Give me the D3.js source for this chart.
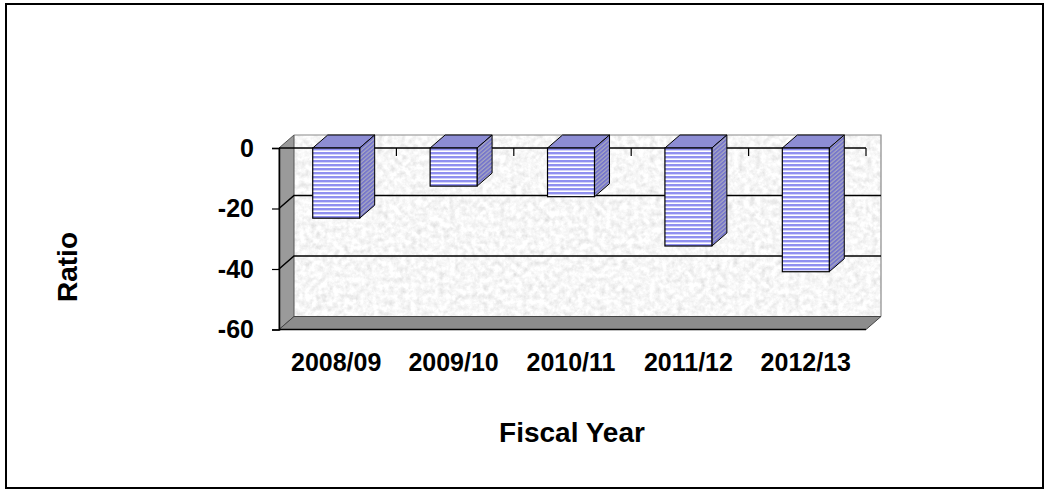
<!DOCTYPE html>
<html>
<head>
<meta charset="utf-8">
<script src="https://cdn.jsdelivr.net/npm/d3@7"></script>
<style>
  html, body { margin: 0; padding: 0; background: #fff; }
  svg { display: block; font-family: Arial, "Liberation Sans", sans-serif; }
</style>
</head>
<body>
<svg id="chart" width="1049" height="493"></svg>
<script>
// Fiscal-year ratios (all negative)
const categories = ["2008/09", "2009/10", "2010/11", "2011/12", "2012/13"];
const ratios = [-23.2, -12.6, -16.1, -32.4, -40.9];
const yTicks = [0, -20, -40, -60];

const svg = d3.select("#chart");
const defs = svg.append("defs");

// Front plane of the 3D plot and depth offset
const plot = { left: 279, right: 866, top: 148, bottom: 329.5 };
const depth = { dx: 15, dy: -13 };

const y = d3.scaleLinear().domain([-60, 0]).range([plot.bottom, plot.top]);
const x = d3.scaleBand().domain(categories).range([plot.left, plot.right]).paddingInner(0.6).paddingOuter(0.3);

// Granite texture for the back wall
const granite = defs.append("filter").attr("id", "granite")
  .attr("x", 0).attr("y", 0).attr("width", 1).attr("height", 1);
granite.append("feTurbulence").attr("type", "fractalNoise")
  .attr("baseFrequency", 0.18).attr("numOctaves", 4).attr("seed", 11).attr("result", "noise");
granite.append("feColorMatrix").attr("in", "noise").attr("type", "matrix")
  .attr("values", "0.33 0.33 0.33 0 0  0.33 0.33 0.33 0 0  0.33 0.33 0.33 0 0  0 0 0 0 1")
  .attr("result", "gray");
const ct = granite.append("feComponentTransfer").attr("in", "gray").attr("result", "tone");
["feFuncR", "feFuncG", "feFuncB"].forEach(f =>
  ct.append(f).attr("type", "linear").attr("slope", 0.75).attr("intercept", 0.56));
granite.append("feComposite").attr("in", "tone").attr("in2", "SourceGraphic").attr("operator", "in");

// Horizontal stripes for bar fronts
const front = defs.append("pattern").attr("id", "stripeFront")
  .attr("patternUnits", "userSpaceOnUse").attr("width", 8).attr("height", 4);
front.append("rect").attr("width", 8).attr("height", 4).attr("fill", "#ffffff");
front.append("rect").attr("width", 8).attr("height", 2.4).attr("fill", "#9090f0");

// Skewed stripes for bar sides
const skew = -Math.atan2(-depth.dy, depth.dx) * 180 / Math.PI;
const side = defs.append("pattern").attr("id", "stripeSide")
  .attr("patternUnits", "userSpaceOnUse").attr("width", 8).attr("height", 4)
  .attr("patternTransform", `skewY(${skew})`);
side.append("rect").attr("width", 8).attr("height", 4).attr("fill", "#a8a8c0");
side.append("rect").attr("width", 8).attr("height", 2.4).attr("fill", "#7676cc");

// Outer frame
svg.append("rect").attr("x", 6).attr("y", 4).attr("width", 1037).attr("height", 484)
  .attr("fill", "#fff").attr("stroke", "#000").attr("stroke-width", 2);

const P = (px, py) => `${px},${py}`;
const back = v => y(v) + depth.dy;

// Back wall
svg.append("rect")
  .attr("x", plot.left + depth.dx).attr("y", back(0))
  .attr("width", plot.right - plot.left).attr("height", y(-60) - y(0))
  .attr("fill", "#eee").attr("filter", "url(#granite)");
svg.append("path")
  .attr("d", `M${P(plot.left + depth.dx, back(0))}L${P(plot.right + depth.dx, back(0))}L${P(plot.right + depth.dx, back(-60))}`)
  .attr("fill", "none").attr("stroke", "#8a8a8a").attr("stroke-width", 1.2);

// Left side wall
svg.append("polygon")
  .attr("points", [P(plot.left, y(0)), P(plot.left + depth.dx, back(0)), P(plot.left + depth.dx, back(-60)), P(plot.left, y(-60))].join(" "))
  .attr("fill", "#9a9a9a").attr("stroke", "#555").attr("stroke-width", 1);

// Floor
svg.append("polygon")
  .attr("points", [P(plot.left, y(-60)), P(plot.left + depth.dx, back(-60)), P(plot.right + depth.dx, back(-60)), P(plot.right, y(-60))].join(" "))
  .attr("fill", "#8c8c8c").attr("stroke", "#444").attr("stroke-width", 1);

// Gridlines across side and back walls
svg.append("g").selectAll("path").data(yTicks.filter(t => t !== 0 && t !== -60)).join("path")
  .attr("d", t => `M${P(plot.left, y(t))}L${P(plot.left + depth.dx, back(t))}L${P(plot.right + depth.dx, back(t))}`)
  .attr("fill", "none").attr("stroke", "#000").attr("stroke-width", 1.5);

// Floor front edge
svg.append("line").attr("x1", plot.left).attr("x2", plot.right)
  .attr("y1", y(-60)).attr("y2", y(-60)).attr("stroke", "#000").attr("stroke-width", 1.5);

// Category axis at zero with ticks at band boundaries
const bounds = d3.range(1, categories.length + 1).map(i => plot.left + i * x.step());
const catAxis = svg.append("g");
catAxis.append("line").attr("x1", plot.left).attr("x2", plot.right)
  .attr("y1", y(0)).attr("y2", y(0)).attr("stroke", "#000").attr("stroke-width", 1.5);
catAxis.selectAll("line.tick").data(bounds).join("line").attr("class", "tick")
  .attr("x1", d => d).attr("x2", d => d).attr("y1", y(0)).attr("y2", y(0) + 8)
  .attr("stroke", "#000").attr("stroke-width", 1.2);

// Bars: front, top and right side faces
const bars = svg.append("g").selectAll("g").data(categories.map((c, i) => ({ c, v: ratios[i] }))).join("g");
bars.append("polygon")
  .attr("points", d => {
    const x0 = x(d.c) - 1.5, x1 = x0 + x.bandwidth();
    return [P(x0, y(0)), P(x0 + depth.dx, back(0)), P(x1 + depth.dx, back(0)), P(x1, y(0))].join(" ");
  })
  .attr("fill", "#8d8dd4").attr("stroke", "#000").attr("stroke-width", 1);
bars.append("polygon")
  .attr("points", d => {
    const x1 = x(d.c) - 1.5 + x.bandwidth();
    return [P(x1, y(0)), P(x1 + depth.dx, back(0)), P(x1 + depth.dx, back(d.v)), P(x1, y(d.v))].join(" ");
  })
  .attr("fill", "url(#stripeSide)").attr("stroke", "#000").attr("stroke-width", 1);
bars.append("rect")
  .attr("x", d => x(d.c) - 1.5).attr("y", y(0))
  .attr("width", x.bandwidth()).attr("height", d => y(d.v) - y(0))
  .attr("fill", "url(#stripeFront)").attr("stroke", "#000").attr("stroke-width", 1.2);

// Value axis
const yAxis = svg.append("g").attr("transform", `translate(${plot.left},0)`)
  .call(d3.axisLeft(y).tickValues(yTicks).tickSize(7).tickPadding(18).tickFormat(d => String(d)));
yAxis.select(".domain").attr("stroke", "#000").attr("stroke-width", 1.5);
yAxis.selectAll(".tick line").attr("stroke", "#000").attr("stroke-width", 1.2);
yAxis.selectAll(".tick text").attr("font-size", 25).attr("font-weight", "bold")
  .attr("font-family", "Arial, 'Liberation Sans', sans-serif").attr("fill", "#000");

// Category labels below the floor
svg.append("g").selectAll("text").data(categories).join("text")
  .attr("x", d => x(d) + x.bandwidth() / 2 - 1.5).attr("y", 371)
  .attr("text-anchor", "middle").attr("font-size", 25).attr("font-weight", "bold").text(d => d);

// Axis titles
svg.append("text").attr("x", 572).attr("y", 442).attr("text-anchor", "middle")
  .attr("font-size", 28).attr("font-weight", "bold").text("Fiscal Year");
svg.append("text").attr("transform", "translate(77,267) rotate(-90)").attr("text-anchor", "middle")
  .attr("font-size", 28).attr("font-weight", "bold").text("Ratio");
</script>
</body>
</html>
